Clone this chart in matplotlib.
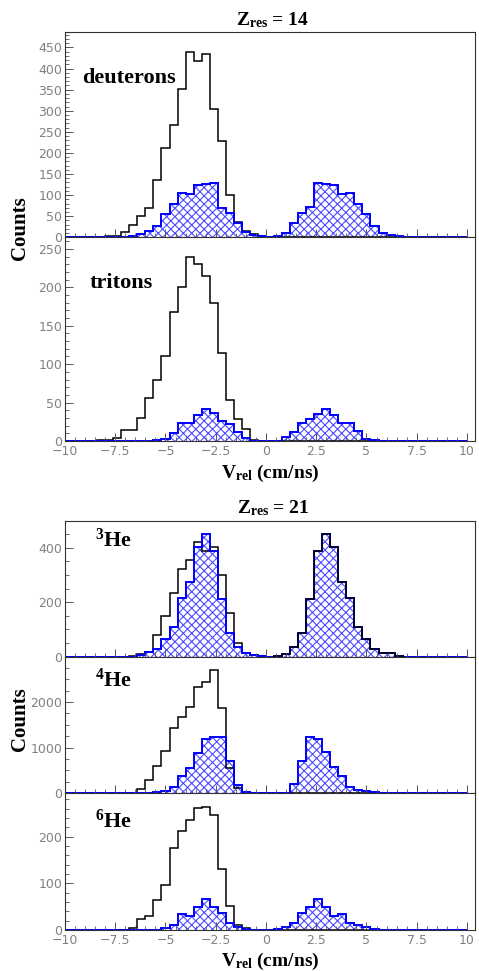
import numpy as np
import matplotlib
matplotlib.use("Agg")
import matplotlib.pyplot as plt
from matplotlib.ticker import MultipleLocator, FuncFormatter

plt.rcParams['mathtext.fontset'] = 'custom'
plt.rcParams['mathtext.rm'] = 'Liberation Serif:bold'
plt.rcParams['mathtext.bf'] = 'Liberation Serif:bold'
plt.rcParams['mathtext.it'] = 'Liberation Serif:bold:italic'
plt.rcParams['hatch.linewidth'] = 0.8

# ---- data: 50 bins of 0.4 cm/ns from -10 to 10 ----
bin_edges = np.round(np.arange(51) * 0.4 - 10, 2)

deuteron_black = [0, 0, 0, 0, 0, 4, 4, 12, 28, 50,
                  70, 137, 211, 267, 351, 439, 417, 435, 305, 229,
                  100, 37, 15, 7, 3, 0, 0, 0, 0, 0,
                  0, 0, 0, 0, 0, 0, 0, 0, 0, 0,
                  0, 0, 0, 0, 0, 0, 0, 0, 0, 0]
deuteron_blue = [0, 0, 0, 0, 0, 0, 0, 0, 2, 7,
                 14, 26, 55, 78, 105, 103, 125, 127, 129, 70,
                 58, 34, 13, 6, 2, 0, 2, 10, 34, 58,
                 71, 129, 127, 125, 103, 105, 78, 55, 26, 10,
                 6, 2, 0, 0, 0, 0, 0, 0, 0, 0]

triton_black = [0, 0, 0, 0, 1, 1, 4, 14, 14, 30,
                56, 79, 110, 168, 200, 239, 230, 215, 179, 115,
                53, 29, 16, 1, 0, 0, 0, 0, 0, 0,
                0, 0, 0, 0, 0, 0, 0, 0, 0, 0,
                0, 0, 0, 0, 0, 0, 0, 0, 0, 0]
triton_blue = [0, 0, 0, 0, 0, 0, 0, 0, 0, 0,
               0, 1, 3, 10, 24, 24, 34, 42, 36, 26,
               22, 12, 4, 0, 0, 0, 0, 5, 12, 23,
               28, 35, 42, 34, 24, 23, 13, 3, 1, 0,
               0, 0, 0, 0, 0, 0, 0, 0, 0, 0]

he3_black = [0, 0, 0, 0, 0, 0, 0, 0, 4, 10,
             16, 80, 149, 232, 320, 355, 420, 389, 404, 300,
             159, 49, 15, 6, 2, 0, 2, 10, 37, 86,
             212, 388, 450, 404, 275, 214, 110, 64, 27, 12,
             12, 4, 0, 0, 0, 0, 0, 0, 0, 0]
he3_blue = [0, 0, 0, 0, 0, 0, 0, 0, 0, 8,
            18, 27, 64, 110, 214, 275, 404, 450, 389, 212,
            86, 37, 15, 6, 2, 0, 2, 10, 37, 86,
            212, 388, 450, 404, 275, 214, 110, 64, 27, 12,
            12, 4, 0, 0, 0, 0, 0, 0, 0, 0]

he4_black = [0, 0, 0, 0, 0, 0, 0, 8, 15, 88,
             294, 588, 919, 1434, 1676, 1897, 2331, 2441, 2706, 1875,
             551, 110, 25, 8, 0, 0, 0, 0, 0, 0,
             0, 0, 0, 0, 0, 0, 0, 0, 0, 0,
             0, 0, 0, 0, 0, 0, 0, 0, 0, 0]
he4_blue = [0, 0, 0, 0, 0, 0, 0, 0, 0, 0,
            10, 22, 51, 140, 368, 560, 890, 1191, 1235, 1235,
            710, 184, 37, 8, 0, 0, 5, 15, 206, 713,
            1235, 1191, 904, 574, 368, 132, 74, 51, 22, 5,
            0, 0, 0, 0, 0, 0, 0, 0, 0, 0]

he6_black = [0, 0, 0, 0, 0, 0, 0, 0, 4, 23,
             29, 64, 96, 175, 212, 236, 261, 263, 246, 131,
             51, 11, 4, 0, 0, 0, 0, 0, 0, 0,
             0, 0, 0, 0, 0, 0, 0, 0, 0, 0,
             0, 0, 0, 0, 0, 0, 0, 0, 0, 0]
he6_blue = [0, 0, 0, 0, 0, 0, 0, 0, 0, 0,
            0, 0, 4, 11, 34, 31, 49, 66, 50, 36,
            14, 7, 2, 0, 0, 0, 2, 7, 14, 36,
            50, 66, 49, 31, 34, 16, 11, 6, 2, 0,
            0, 0, 0, 0, 0, 0, 0, 0, 0, 0]

panel_labels = ["deuterons", "tritons", r"$^{\mathbf{3}}\mathbf{He}$",
                r"$^{\mathbf{4}}\mathbf{He}$", r"$^{\mathbf{6}}\mathbf{He}$"]
group_titles = [r"$\mathbf{Z}_{\mathbf{res}}$ = 14", r"$\mathbf{Z}_{\mathbf{res}}$ = 21"]
x_ticks = [-10, -7.5, -5, -2.5, 0, 2.5, 5, 7.5, 10]

# ---- figure ----
W, H = 479, 971
fig = plt.figure(figsize=(W / 100, H / 100), dpi=100)


def px_axes(top, bottom, left=65, right=475):
    return fig.add_axes([left / W, 1 - bottom / H, (right - left) / W, (bottom - top) / H])


serif = "Liberation Serif"
tick_gray = "#808080"
hatch_col = (0.3, 0.3, 1.0)


def draw(ax, black, blue, ymax, major, minor, xlabels, black_on_top=False):
    black = np.asarray(black, float)
    blue = np.asarray(blue, float)
    ax.stairs(blue, bin_edges, fill=True, facecolor="none", edgecolor=hatch_col,
              hatch="xxxx", linewidth=0)
    ax.stairs(black, bin_edges, color="black", lw=1.1)
    ax.stairs(blue, bin_edges, color="blue", lw=1.4)
    if black_on_top:
        nz = np.nonzero(black[25:])[0] + 25
        i0, i1 = nz.min(), nz.max() + 1
        ax.stairs(black[i0:i1], bin_edges[i0:i1 + 1], color="black", lw=1.1)
    ax.set_xlim(-10, 10.4)
    ax.set_ylim(0, ymax)
    ax.xaxis.set_major_locator(plt.FixedLocator(x_ticks))
    ax.xaxis.set_minor_locator(MultipleLocator(0.5))
    ax.yaxis.set_major_locator(MultipleLocator(major))
    ax.yaxis.set_minor_locator(MultipleLocator(minor))
    ax.xaxis.set_major_formatter(FuncFormatter(lambda v, p: ("%g" % v).replace("-", "\u2212")))
    ax.tick_params(which="both", direction="in", top=False, right=False,
                   color="#555555", labelcolor=tick_gray, labelsize=9)
    ax.tick_params(which="major", length=6, width=0.7)
    ax.tick_params(which="minor", length=3, width=0.6)
    ax.tick_params(axis="y", pad=2)
    ax.tick_params(axis="x", pad=3)
    if not xlabels:
        ax.tick_params(axis="x", labelbottom=False)
    for s in ax.spines.values():
        s.set_color("#333333")
        s.set_linewidth(0.8)


ax1 = px_axes(32.3, 237.3)
draw(ax1, deuteron_black, deuteron_blue, 486, 50, 10, False)
ax2 = px_axes(237.3, 441)
draw(ax2, triton_black, triton_blue, 265, 50, 10, True)
ax3 = px_axes(520.7, 656.7)
draw(ax3, he3_black, he3_blue, 499, 200, 50, False, black_on_top=True)
ax4 = px_axes(656.7, 793.3)
draw(ax4, he4_black, he4_blue, 2990, 1000, 250, False)
ax5 = px_axes(793.3, 930)
draw(ax5, he6_black, he6_blue, 293, 100, 20, True)


def ftext(x, y, s, **kw):
    fig.text(x / W, 1 - y / H, s, family=serif, fontweight="bold", **kw)


label_pos = [(82, 83), (90, 288), (95, 547), (95, 687), (95, 828)]
for (x, y), s in zip(label_pos, panel_labels):
    ftext(x, y, s, fontsize=16, ha="left", va="baseline")

ftext(273, 25, group_titles[0], fontsize=14, ha="center", va="baseline")
ftext(273, 513, group_titles[1], fontsize=14, ha="center", va="baseline")

xlab = r"$\mathbf{V}_{\mathbf{rel}}$ (cm/ns)"
ftext(270, 478, xlab, fontsize=14, ha="center", va="baseline")
ftext(270, 966, xlab, fontsize=14, ha="center", va="baseline")

ftext(20, 228, "Counts", fontsize=15, ha="center", va="center", rotation=90)
ftext(20, 719, "Counts", fontsize=15, ha="center", va="center", rotation=90)

fig.savefig("out.png", dpi=100)
